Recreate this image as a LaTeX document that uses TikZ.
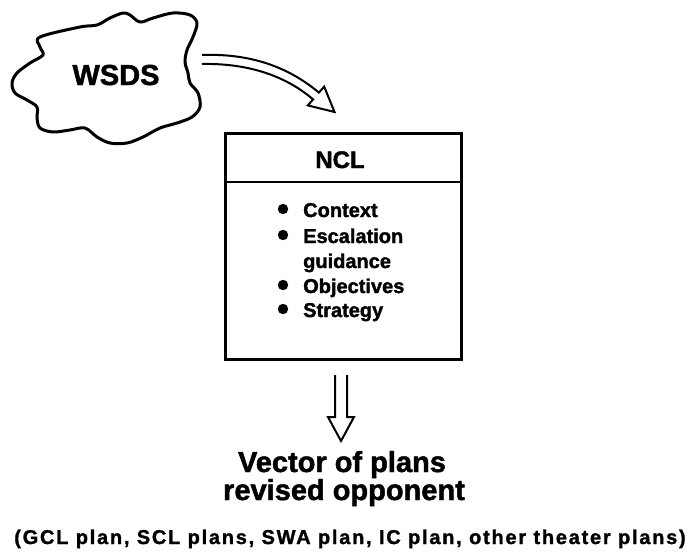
\documentclass[tikz,border=0pt]{standalone}
\usepackage{fontspec}
\setmainfont{Liberation Sans}
\newfontfamily\heavyfont[FakeBold=1.6]{Liberation Sans Bold}
\newfontfamily\wideheavyfont[FakeBold=1.4, LetterSpace=8.8]{Liberation Sans Bold}
\usetikzlibrary{calc}

\tikzset{
  heavy/.style={line width=3pt, line join=round, line cap=round},
  frame/.style={line width=2.5pt},
  hollow/.style={line width=2pt, line join=miter},
  label/.style={inner sep=0pt, anchor=base},
  bullettext/.style={inner sep=0pt, anchor=base west, font=\heavyfont\fontsize{20}{24}\selectfont},
}

\begin{document}
\begin{tikzpicture}[x=1pt, y=-1pt]
\useasboundingbox (0,0) rectangle (690,555);

% ---- WSDS cloud ----
\draw[heavy] plot[smooth cycle, tension=0.55] coordinates {
  (40,37) (80,27) (97,25) (110,18) (123,13) (130,15) (140,22) (153,18)
  (173,13) (190,15) (197,23) (193,37) (187,50) (185,62) (188,73) (190,83)
  (198,93) (200,107) (192,117) (177,123) (160,128) (143,137) (127,143)
  (110,143) (97,137) (85,128) (70,130) (53,132) (40,128) (37,118) (37,107)
  (27,100) (15,93) (12,83) (17,73) (30,63) (43,55) (40,47)};
\node[label, font=\heavyfont\fontsize{29}{34}\selectfont] (wsds) at (116,85) {WSDS};

% ---- NCL box ----
\node[draw, frame, anchor=north west, minimum width=236pt, minimum height=226pt,
      inner sep=0pt] (ncl) at (224,132) {};
\coordinate (divl) at (224,182);
\coordinate (divr) at (460,182);
\draw[frame] (divl) -- (divr);
\node[label, font=\heavyfont\fontsize{24}{28}\selectfont] (ncltitle) at (340,168) {NCL};

\node[bullettext] (i1) at (303,217) {Context};
\node[bullettext] (i2) at (303,243) {Escalation};
\node[bullettext] (i3) at (303,268) {guidance};
\node[bullettext] (i4) at (303,293) {Objectives};
\node[bullettext] (i5) at (303,317) {Strategy};
\foreach \n in {i1,i2,i4,i5}
  \fill ($(\n.base west)+(-20,-8)$) circle (5.2pt);

% ---- curved hollow arrow from the cloud toward the box ----
\coordinate (ca1) at (202,55);
\coordinate (ca2) at (202,64);
\coordinate (cs1) at (318.9,92.6);
\coordinate (cs2) at (313.1,99.4);
\coordinate (ch1) at (324.2,86.6);
\coordinate (ch2) at (307.8,105.4);
\coordinate (ctip) at (334.5,112);
\draw[hollow] (ca1) .. controls (255,53) and (292,70) .. (cs1)
  -- (ch1) -- (ctip) -- (ch2) -- (cs2)
  .. controls (287,77) and (250,63) .. (ca2);

% ---- hollow down arrow from the box to the plans ----
\coordinate (d1) at (335,375);
\coordinate (d2) at (347,375);
\coordinate (dtip) at (341,441);
\draw[hollow] (d1) -- (335,417) -- (328,417) -- (dtip) -- (354,417)
  -- (347,417) -- (d2);

% ---- outputs ----
\node[label, font=\heavyfont\fontsize{29}{34}\selectfont] (vec1) at (342,472) {Vector of plans};
\node[label, font=\heavyfont\fontsize{29}{34}\selectfont] (vec2) at (344,500) {revised opponent};
\node[label, font=\wideheavyfont\fontsize{20}{24}\selectfont] (plans) at (350,544)
  {(GCL plan, SCL plans, SWA plan, IC plan, other theater plans)};
\end{tikzpicture}
\end{document}
